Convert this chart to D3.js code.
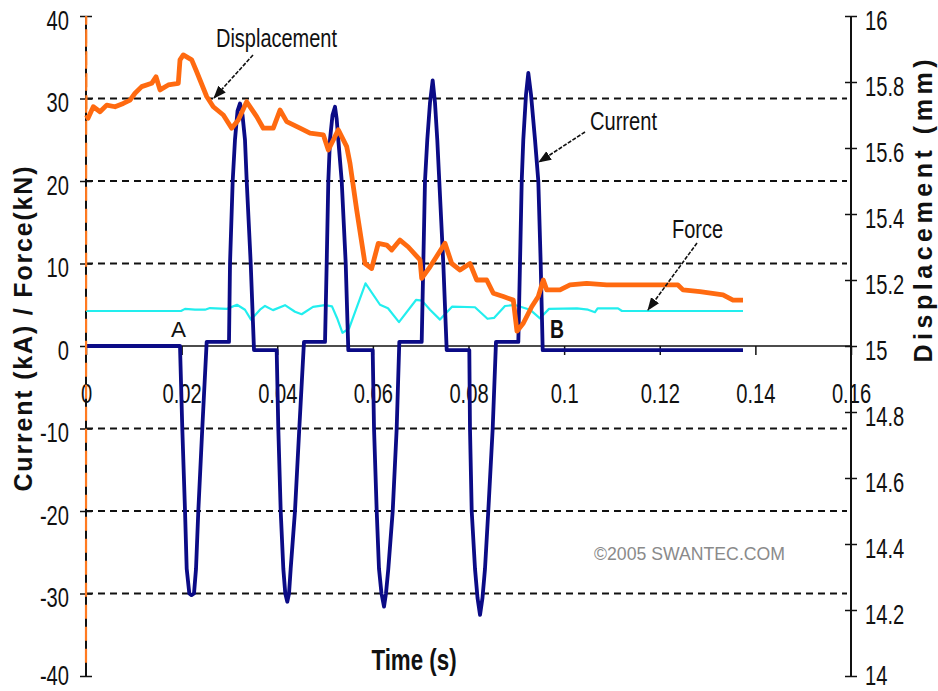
<!DOCTYPE html>
<html>
<head>
<meta charset="utf-8">
<script src="https://cdn.jsdelivr.net/npm/d3@7"></script>
<style>
  html, body { margin: 0; padding: 0; background: #fff; }
  svg { display: block; font-family: "Liberation Sans", Arial, sans-serif; }
</style>
</head>
<body>
<svg id="chart" width="938" height="691"></svg>
<script>
// ---- axis ticks ----
const timeTicks = [0, 0.02, 0.04, 0.06, 0.08, 0.1, 0.12, 0.14, 0.16];
const leftTicks = [-40, -30, -20, -10, 0, 10, 20, 30, 40];
const rightTicks = [14, 14.2, 14.4, 14.6, 14.8, 15, 15.2, 15.4, 15.6, 15.8, 16];
const gridValues = [-30, -20, -10, 10, 20, 30];

// ---- welding current, kA : [time s, current] ----
const currentSeries = [
  [0, 0], [0.01966, 0],
  [0.02014, -10], [0.02071, -20], [0.02106, -27], [0.02161, -30], [0.02207, -30.2], [0.02259, -30],
  [0.02301, -27], [0.02349, -20], [0.02432, -10], [0.02524, 0.5],
  [0.02991, 0.5],
  [0.03012, 10], [0.03068, 20], [0.03116, 25], [0.03169, 28.5], [0.03221, 29.4], [0.03273, 28],
  [0.03325, 25], [0.03361, 20], [0.03445, 10], [0.03514, -0.5],
  [0.03988, -0.5],
  [0.04022, -10], [0.04072, -20], [0.04127, -27], [0.04168, -30], [0.04210, -31], [0.04246, -30],
  [0.04281, -27], [0.04371, -20], [0.04461, -10], [0.04559, 0.5],
  [0.04999, 0.5],
  [0.05034, 10], [0.05068, 20], [0.05103, 25], [0.05156, 28], [0.05208, 29], [0.05243, 27.5],
  [0.05277, 25], [0.05348, 20], [0.05432, 10], [0.05486, -0.5],
  [0.05996, -0.5],
  [0.06024, -10], [0.06080, -20], [0.06128, -27], [0.06180, -30], [0.06233, -31.6], [0.06274, -30],
  [0.06323, -27], [0.06415, -20], [0.06498, -10], [0.06553, 0.5],
  [0.07021, 0.5],
  [0.07055, 10], [0.07090, 20], [0.07138, 25], [0.07195, 29.5], [0.07251, 32.2], [0.07299, 29.5],
  [0.07347, 25], [0.07389, 20], [0.07473, 10], [0.07544, -0.5],
  [0.08017, -0.5],
  [0.08031, -10], [0.08067, -20], [0.08136, -27], [0.08188, -30.5], [0.08241, -32.6], [0.08293, -30.5],
  [0.08345, -27], [0.08414, -20], [0.08506, -10], [0.08575, 0.5],
  [0.09042, 0.5],
  [0.09077, 10], [0.09113, 20], [0.09146, 25], [0.09203, 30.5], [0.09251, 33.1], [0.09307, 30.5],
  [0.09391, 25], [0.09460, 20], [0.09510, 10], [0.09552, -0.5],
  [0.13741, -0.5]
];

// ---- electrode force, kN : [time s, force] ----
const forceSeries = [
  [0, 4.24], [0.01987, 4.24], [0.02071, 4.5], [0.02280, 4.4], [0.02489, 4.4], [0.02593, 4.6],
  [0.02949, 4.5], [0.03158, 5.0], [0.03325, 4.4], [0.03451, 3.2], [0.03639, 4.4], [0.03744, 4.85],
  [0.03911, 4.35], [0.04162, 4.95], [0.04371, 4.15], [0.04511, 3.85], [0.04748, 4.75], [0.04999, 4.95],
  [0.05145, 4.8], [0.05250, 3.4], [0.05365, 1.6], [0.05501, 2.1], [0.05846, 7.6], [0.06149, 5.0],
  [0.06316, 4.57], [0.06546, 2.9], [0.06902, 5.58], [0.07027, 5.5], [0.07195, 4.4], [0.07404, 3.2],
  [0.07655, 4.77], [0.08136, 4.7], [0.08397, 3.3], [0.08533, 3.4], [0.08763, 4.85], [0.08972, 4.97],
  [0.09286, 4.4], [0.09495, 3.35], [0.09684, 4.5], [0.10270, 4.57], [0.10500, 4.4], [0.10646, 4.1],
  [0.10700, 4.57], [0.11127, 4.57], [0.11210, 4.24], [0.13741, 4.24]
];

// ---- electrode displacement, mm : [time s, displacement] ----
const displacementStart = [[0, 14.04], [0.00004, 16.0], [0.0001, 15.70]];
const displacementSeries = [
  [0.0001, 15.70], [0.00042, 15.69], [0.00153, 15.725], [0.00293, 15.71], [0.00433, 15.73],
  [0.00607, 15.725], [0.00780, 15.735], [0.00920, 15.745], [0.01025, 15.766], [0.01165, 15.786],
  [0.01374, 15.796], [0.01464, 15.816], [0.01548, 15.776], [0.01721, 15.791], [0.01930, 15.796],
  [0.01966, 15.867], [0.02035, 15.882], [0.02211, 15.867], [0.02315, 15.831], [0.02524, 15.756],
  [0.02662, 15.725], [0.02872, 15.70], [0.03047, 15.66], [0.03185, 15.685], [0.03361, 15.74],
  [0.03570, 15.695], [0.03708, 15.66], [0.03917, 15.66], [0.04058, 15.715], [0.04198, 15.68],
  [0.04476, 15.66], [0.04685, 15.645], [0.04963, 15.64], [0.05068, 15.594], [0.05277, 15.655],
  [0.05453, 15.604], [0.05522, 15.553], [0.05662, 15.412], [0.05835, 15.25], [0.05975, 15.235],
  [0.06113, 15.311], [0.06289, 15.306], [0.06394, 15.291], [0.06567, 15.321], [0.06741, 15.30],
  [0.06986, 15.261], [0.07021, 15.205], [0.07195, 15.24], [0.07508, 15.311], [0.07649, 15.25],
  [0.07823, 15.23], [0.08031, 15.25], [0.08172, 15.20], [0.08381, 15.20], [0.08519, 15.16],
  [0.08728, 15.15], [0.08937, 15.139], [0.09014, 15.045], [0.09146, 15.069], [0.09322, 15.119],
  [0.09460, 15.15], [0.09564, 15.20], [0.09636, 15.17], [0.09914, 15.17], [0.10123, 15.185],
  [0.10472, 15.19], [0.10890, 15.185], [0.12145, 15.185], [0.12381, 15.185], [0.12486, 15.17],
  [0.12842, 15.165], [0.13323, 15.155], [0.13532, 15.139], [0.13741, 15.139]
];

// ---- layout ----
const svg = d3.select("#chart");
const x = d3.scaleLinear().domain([0, 0.16]).range([86, 851]);
const yL = d3.scaleLinear().domain([-40, 40]).range([676, 16]);
const yR = d3.scaleLinear().domain([14, 16]).range([676, 16]);
const INK = "#111";
const SQUEEZE = 0.72;
// baseline offset of a tick label below its tick; the lowest labels sit a little higher
const labelDrop = (v, lowest) => (v === lowest ? 8 : 13);

// arrowhead
svg.append("defs").append("marker")
  .attr("id", "arrowhead")
  .attr("markerUnits", "userSpaceOnUse")
  .attr("markerWidth", 14).attr("markerHeight", 12)
  .attr("refX", 12).attr("refY", 5)
  .attr("orient", "auto")
  .append("path").attr("d", "M0,0 L13,5 L0,10 Z").attr("fill", INK);

// dashed horizontal gridlines
svg.append("g").selectAll("line").data(gridValues).join("line")
  .attr("x1", x(0)).attr("x2", x(0.16) - 4)
  .attr("y1", d => yL(d)).attr("y2", d => yL(d))
  .attr("stroke", INK).attr("stroke-width", 2).attr("stroke-dasharray", "7,5");

// time axis (drawn on the zero line)
const gx = svg.append("g")
  .attr("transform", `translate(0,${yL(0)})`)
  .call(d3.axisBottom(x).tickValues(timeTicks).tickSize(9).tickFormat(d => String(d)));
gx.attr("font-size", null).attr("font-family", null);
gx.select(".domain").remove();
gx.selectAll(".tick line").attr("stroke", INK).attr("stroke-width", 1.5);
gx.selectAll(".tick text")
  .attr("y", 57).attr("dy", null)
  .attr("transform", `scale(${SQUEEZE},1)`)
  .attr("fill", INK).style("font-size", "28px");

// left axis: current / force
const gl = svg.append("g")
  .attr("transform", `translate(${x(0)},0)`)
  .call(d3.axisLeft(yL).tickValues(leftTicks).tickSize(6).tickFormat(d => String(d)));
gl.attr("font-size", null).attr("font-family", null);
gl.select(".domain").remove();
gl.selectAll(".tick line").attr("x1", 6).attr("stroke", INK).attr("stroke-width", 1.5);
gl.selectAll(".tick text")
  .attr("x", -17 / SQUEEZE).attr("y", d => labelDrop(d, -40)).attr("dy", null)
  .attr("transform", `scale(${SQUEEZE},1)`)
  .attr("fill", INK).style("font-size", "28px");

// right axis: displacement
const gr = svg.append("g")
  .attr("transform", `translate(${x(0.16)},0)`)
  .call(d3.axisRight(yR).tickValues(rightTicks).tickSize(6).tickFormat(d => String(d)));
gr.attr("font-size", null).attr("font-family", null);
gr.select(".domain").remove();
gr.selectAll(".tick line").attr("x1", -6).attr("stroke", INK).attr("stroke-width", 1.5);
gr.selectAll(".tick text")
  .attr("x", 14 / SQUEEZE).attr("y", d => labelDrop(d, 14)).attr("dy", null)
  .attr("transform", `scale(${SQUEEZE},1)`)
  .attr("fill", INK).style("font-size", "28px");

// axis lines
svg.append("line").attr("x1", x(0)).attr("x2", x(0.16)).attr("y1", yL(0)).attr("y2", yL(0))
  .attr("stroke", INK).attr("stroke-width", 1.5);
svg.append("line").attr("x1", x(0)).attr("x2", x(0)).attr("y1", yL(40)).attr("y2", yL(-40))
  .attr("stroke", INK).attr("stroke-width", 2);
svg.append("line").attr("x1", x(0.16)).attr("x2", x(0.16)).attr("y1", yR(16)).attr("y2", yR(14))
  .attr("stroke", INK).attr("stroke-width", 2);

// data lines
const lineL = d3.line().x(d => x(d[0])).y(d => yL(d[1]));
const lineR = d3.line().x(d => x(d[0])).y(d => yR(d[1]));

svg.append("path").datum(forceSeries).attr("d", lineL)
  .attr("fill", "none").attr("stroke", "#22eeee").attr("stroke-width", 2.2)
  .attr("stroke-linejoin", "round");

svg.append("path").datum(currentSeries).attr("d", lineL)
  .attr("fill", "none").attr("stroke", "#0b0b86").attr("stroke-width", 3.8)
  .attr("stroke-linejoin", "round");

svg.append("path").datum(displacementSeries).attr("d", lineR)
  .attr("fill", "none").attr("stroke", "#ff6a10").attr("stroke-width", 4.8)
  .attr("stroke-linejoin", "round");

svg.append("path").datum(displacementStart).attr("d", lineR)
  .attr("fill", "none").attr("stroke", "#ff7a20").attr("stroke-width", 2.2)
  .attr("stroke-dasharray", "14,8");

// axis titles
svg.append("text")
  .attr("transform", "translate(32,329) rotate(-90)")
  .attr("text-anchor", "middle").attr("font-weight", "bold").attr("font-size", 25)
  .attr("textLength", 325).attr("lengthAdjust", "spacing")
  .attr("fill", INK).text("Current (kA) / Force(kN)");

svg.append("text")
  .attr("transform", "translate(932,211) rotate(-90)")
  .attr("text-anchor", "middle").attr("font-weight", "bold").attr("font-size", 25)
  .attr("textLength", 303).attr("lengthAdjust", "spacing")
  .attr("fill", INK).text("Displacement (mm)");

svg.append("text")
  .attr("transform", "translate(414,670) scale(0.77,1)")
  .attr("text-anchor", "middle").attr("font-weight", "bold").attr("font-size", 29)
  .attr("fill", INK).text("Time (s)");

// callouts
const callouts = [
  { text: "Displacement", x: 216, y: 47, w: 121, size: 26, from: [253, 55], to: [214, 98] },
  { text: "Current", x: 590, y: 130, w: 67, size: 26, from: [585, 132], to: [539, 162] },
  { text: "Force", x: 672, y: 238, w: 51, size: 26, from: [697, 243], to: [648, 310] }
];
callouts.forEach(c => {
  svg.append("text").attr("x", c.x).attr("y", c.y)
    .attr("font-size", c.size).attr("textLength", c.w).attr("lengthAdjust", "spacingAndGlyphs")
    .attr("fill", INK).text(c.text);
  svg.append("line")
    .attr("x1", c.from[0]).attr("y1", c.from[1]).attr("x2", c.to[0]).attr("y2", c.to[1])
    .attr("stroke", INK).attr("stroke-width", 1.6).attr("stroke-dasharray", "4,1.5")
    .attr("marker-end", "url(#arrowhead)");
});

svg.append("text").attr("x", 171).attr("y", 337).attr("font-size", 22)
  .attr("textLength", 15).attr("lengthAdjust", "spacingAndGlyphs")
  .attr("fill", INK).text("A");
svg.append("text").attr("x", 550).attr("y", 338).attr("font-size", 25).attr("font-weight", "bold")
  .attr("textLength", 14).attr("lengthAdjust", "spacingAndGlyphs")
  .attr("fill", INK).text("B");

svg.append("text").attr("x", 594).attr("y", 560).attr("font-size", 19)
  .attr("textLength", 191).attr("lengthAdjust", "spacingAndGlyphs")
  .attr("fill", "#8a8a8a").text("©2005 SWANTEC.COM");
</script>
</body>
</html>
